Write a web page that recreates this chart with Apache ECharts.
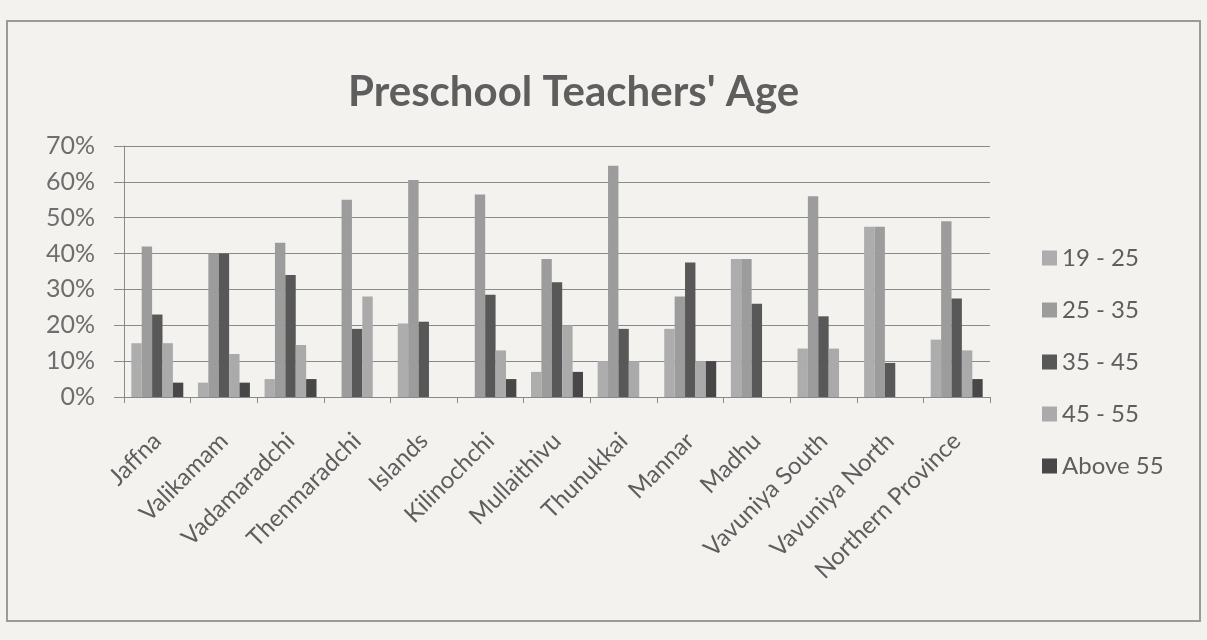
<!DOCTYPE html>
<html>
<head>
<meta charset="utf-8">
<script src="https://cdn.jsdelivr.net/npm/echarts@6/dist/echarts.min.js"></script>
<style>
  html, body { margin: 0; padding: 0; background: #f4f2ee; }
  #frame {
    position: absolute; left: 6px; top: 20px; width: 1195px; height: 602px;
    border: 2px solid #9a9a9a; box-sizing: border-box;
  }
  #chart { position: absolute; left: 0; top: 0; width: 1207px; height: 640px; }
</style>
</head>
<body>
<div id="frame"></div>
<div id="chart"></div>
<script>
// categories (areas)
const areas = [
  'Jaffna', 'Valikamam', 'Vadamaradchi', 'Thenmaradchi', 'Islands',
  'Kilinochchi', 'Mullaithivu', 'Thunukkai', 'Mannar', 'Madhu',
  'Vavuniya South', 'Vavuniya North', 'Northern Province'
]
// age groups, percentage per area
const age19to25 = [15, 4, 5, 0, 20.5, 0, 7, 10, 19, 38.5, 13.5, 47.5, 16]
const age25to35 = [42, 40, 43, 55, 60.5, 56.5, 38.5, 64.5, 28, 38.5, 56, 47.5, 49]
const age35to45 = [23, 40, 34, 19, 21, 28.5, 32, 19, 37.5, 26, 22.5, 9.5, 27.5]
const age45to55 = [15, 12, 14.5, 28, 0, 13, 20, 10, 10, 0, 13.5, 0, 13]
const above55 = [4, 4, 5, 0, 0, 5, 7, 0, 10, 0, 0, 0, 5]

const groups = [
  { name: '19 - 25', data: age19to25, color: '#adadad' },
  { name: '25 - 35', data: age25to35, color: '#9c9c9c' },
  { name: '35 - 45', data: age35to45, color: '#585858' },
  { name: '45 - 55', data: age45to55, color: '#aaaaaa' },
  { name: 'Above 55', data: above55, color: '#474747' }
]

const font = 'Lato, "Open Sans", sans-serif'
const myChart = echarts.init(document.getElementById('chart'))

myChart.setOption({
  animation: false,
  title: {
    text: "Preschool Teachers' Age",
    left: 343,
    top: 66,
    textStyle: { fontFamily: font, fontSize: 42, fontWeight: 'bold', color: '#5e5e5e' }
  },
  legend: {
    orient: 'vertical',
    left: 1037,
    top: 241,
    itemWidth: 15,
    itemHeight: 15,
    itemGap: 28,
    icon: 'rect',
    textStyle: { fontFamily: font, fontSize: 24, color: '#5e5e5e', padding: [0, 0, 0, 0] }
  },
  grid: { left: 124, right: 217, top: 146, bottom: 243 },
  xAxis: {
    type: 'category',
    data: areas,
    axisLine: { lineStyle: { color: '#8a8a8a' } },
    axisTick: { show: true, length: 6, lineStyle: { color: '#8a8a8a' } },
    axisLabel: {
      rotate: 45,
      interval: 0,
      margin: 40,
      fontFamily: font,
      fontSize: 24,
      color: '#5e5e5e'
    }
  },
  yAxis: {
    type: 'value',
    min: 0,
    max: 70,
    interval: 10,
    axisLine: { show: true, lineStyle: { color: '#8a8a8a' } },
    axisTick: { show: true, length: 10, lineStyle: { color: '#8a8a8a' } },
    axisLabel: {
      formatter: '{value}%',
      margin: 29,
      fontFamily: font,
      fontSize: 25,
      color: '#6e6e6e'
    },
    splitLine: { lineStyle: { color: '#8a8a8a', width: 1 } }
  },
  series: groups.map(g => ({
    name: g.name,
    type: 'bar',
    data: g.data,
    barGap: '0%',
    barCategoryGap: '22%',
    itemStyle: { color: g.color }
  }))
})
</script>
</body>
</html>
